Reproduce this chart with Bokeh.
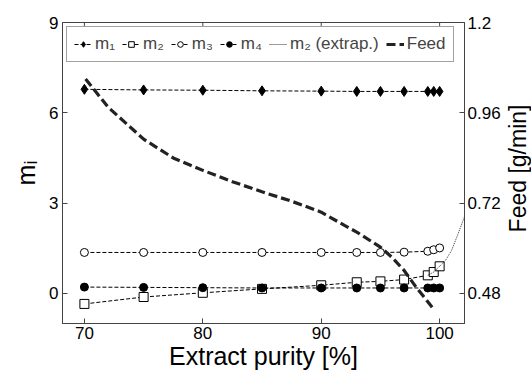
import math
from bokeh.plotting import figure
from bokeh.models import Range1d, LinearAxis, Legend, LegendItem, FixedTicker, Label
from bokeh.embed import file_html
from bokeh.resources import INLINE

# ---- data ----
purity = [70, 75, 80, 85, 90, 93, 95, 97, 99, 99.5, 100]
m1 = [6.78, 6.76, 6.75, 6.73, 6.72, 6.71, 6.71, 6.71, 6.71, 6.71, 6.71]
m2 = [-0.35, -0.12, 0.02, 0.15, 0.27, 0.37, 0.40, 0.46, 0.60, 0.71, 0.90]
m3 = [1.36, 1.36, 1.36, 1.36, 1.36, 1.36, 1.36, 1.37, 1.40, 1.45, 1.51]
m4 = [0.21, 0.20, 0.19, 0.18, 0.18, 0.18, 0.18, 0.18, 0.18, 0.18, 0.18]

extrap_x = [99, 99.5, 100, 100.5, 101, 101.5, 102.1]
extrap_m2 = [0.60, 0.71, 0.90, 1.10, 1.42, 1.92, 2.55]

feed_x = [70.1, 72, 75, 77.5, 80, 82.5, 85, 87.5, 90, 92, 93, 95, 96, 97, 98, 99, 99.4]
feed = [1.05, 0.975, 0.89, 0.84, 0.807, 0.777, 0.75, 0.725, 0.696, 0.66, 0.643,
        0.603, 0.575, 0.541, 0.497, 0.458, 0.442]

x_ticks = [70, 80, 90, 100]
left_ticks = [0, 3, 6, 9]
right_ticks = [0.48, 0.72, 0.96, 1.2]

FONT = "Liberation Sans"
FRAME = "#444444"
Y_TOP = 9

p = figure(width=531, height=375, x_range=Range1d(68.15, 102.1), y_range=Range1d(-1, Y_TOP),
           output_backend="svg", toolbar_location=None,
           min_border_left=62, min_border_right=67, min_border_top=22, min_border_bottom=52)
p.extra_y_ranges = {"feed": Range1d(0.4, 1.2)}
p.grid.visible = False
p.outline_line_color = FRAME
p.background_fill_color = "white"
p.border_fill_color = "white"


def style_axis(ax, ticks, size="17px"):
    ax.ticker = FixedTicker(ticks=ticks)
    ax.major_tick_in = 5
    ax.major_tick_out = 0
    ax.minor_tick_line_color = None
    ax.axis_line_color = FRAME
    ax.major_tick_line_color = FRAME
    ax.major_label_text_font = FONT
    ax.major_label_text_font_size = size
    ax.major_label_text_color = "black"
    ax.axis_label_text_font = FONT
    ax.axis_label_text_font_style = "normal"
    ax.axis_label_text_color = "black"


xa = p.xaxis[0]
style_axis(xa, x_ticks)
xa.axis_label = "Extract purity [%]"
xa.axis_label_text_font_size = "25px"
xa.major_label_standoff = 3
xa.axis_label_standoff = 0

ya = p.yaxis[0]
style_axis(ya, left_ticks)
ya.axis_label = "mᵢ"
ya.axis_label_text_font_size = "25px"
ya.major_label_standoff = 4
ya.axis_label_standoff = 6

ra = LinearAxis(y_range_name="feed")
style_axis(ra, right_ticks)
ra.major_label_overrides = {1.2: "1.2", 0.48: "0.48", 0.72: "0.72", 0.96: "0.96"}
ra.major_label_standoff = 3
p.add_layout(ra, "right")

# right axis title, reading bottom-to-top, placed in the right border panel
p.add_layout(Label(x=106.6, y=4.15, text="Feed [g/min]", angle=math.pi / 2,
                   text_align="center", text_baseline="middle",
                   text_font=FONT, text_font_size="23px", text_color="black"), "right")

# inward tick marks along the top edge of the frame
p.scatter(x_ticks, [Y_TOP] * len(x_ticks), marker="dash", angle=math.pi / 2,
          size=10, line_color=FRAME, line_width=1)

series_dash = "4 2"
lw = 1

l1 = p.line(purity, m1, line_color="black", line_width=lw, line_dash=series_dash)
s1 = p.scatter(purity, m1, marker="diamond", size=10, fill_color="black", line_color="black")

l2 = p.line(purity, m2, line_color="black", line_width=lw, line_dash=series_dash)
s2 = p.scatter(purity, m2, marker="square", size=9, fill_color="white", line_color="black", line_width=1)

l3 = p.line(purity, m3, line_color="black", line_width=lw, line_dash=series_dash)
s3 = p.scatter(purity, m3, marker="circle", size=8, fill_color="white", line_color="black", line_width=1)

l4 = p.line(purity, m4, line_color="black", line_width=lw, line_dash=series_dash)
s4 = p.scatter(purity, m4, marker="circle", size=8, fill_color="black", line_color="black")

le = p.line(extrap_x, extrap_m2, line_color="black", line_width=0.8, line_dash="1 1")

lf = p.line(feed_x, feed, y_range_name="feed", line_color="#222222", line_width=3.2, line_dash="9 4")

legend = Legend(items=[
    LegendItem(label="m₁", renderers=[l1, s1]),
    LegendItem(label="m₂", renderers=[l2, s2]),
    LegendItem(label="m₃", renderers=[l3, s3]),
    LegendItem(label="m₄", renderers=[l4, s4]),
    LegendItem(label="m₂ (extrap.)", renderers=[le]),
    LegendItem(label="Feed", renderers=[lf]),
], orientation="horizontal", location="top_left",
    label_text_font=FONT, label_text_font_size="17px",
    glyph_width=18, glyph_height=14, label_standoff=3, spacing=7,
    padding=7, margin=4, border_line_color=FRAME, background_fill_alpha=1)
p.add_layout(legend)

open("out.html", "w").write(file_html(p, INLINE))
